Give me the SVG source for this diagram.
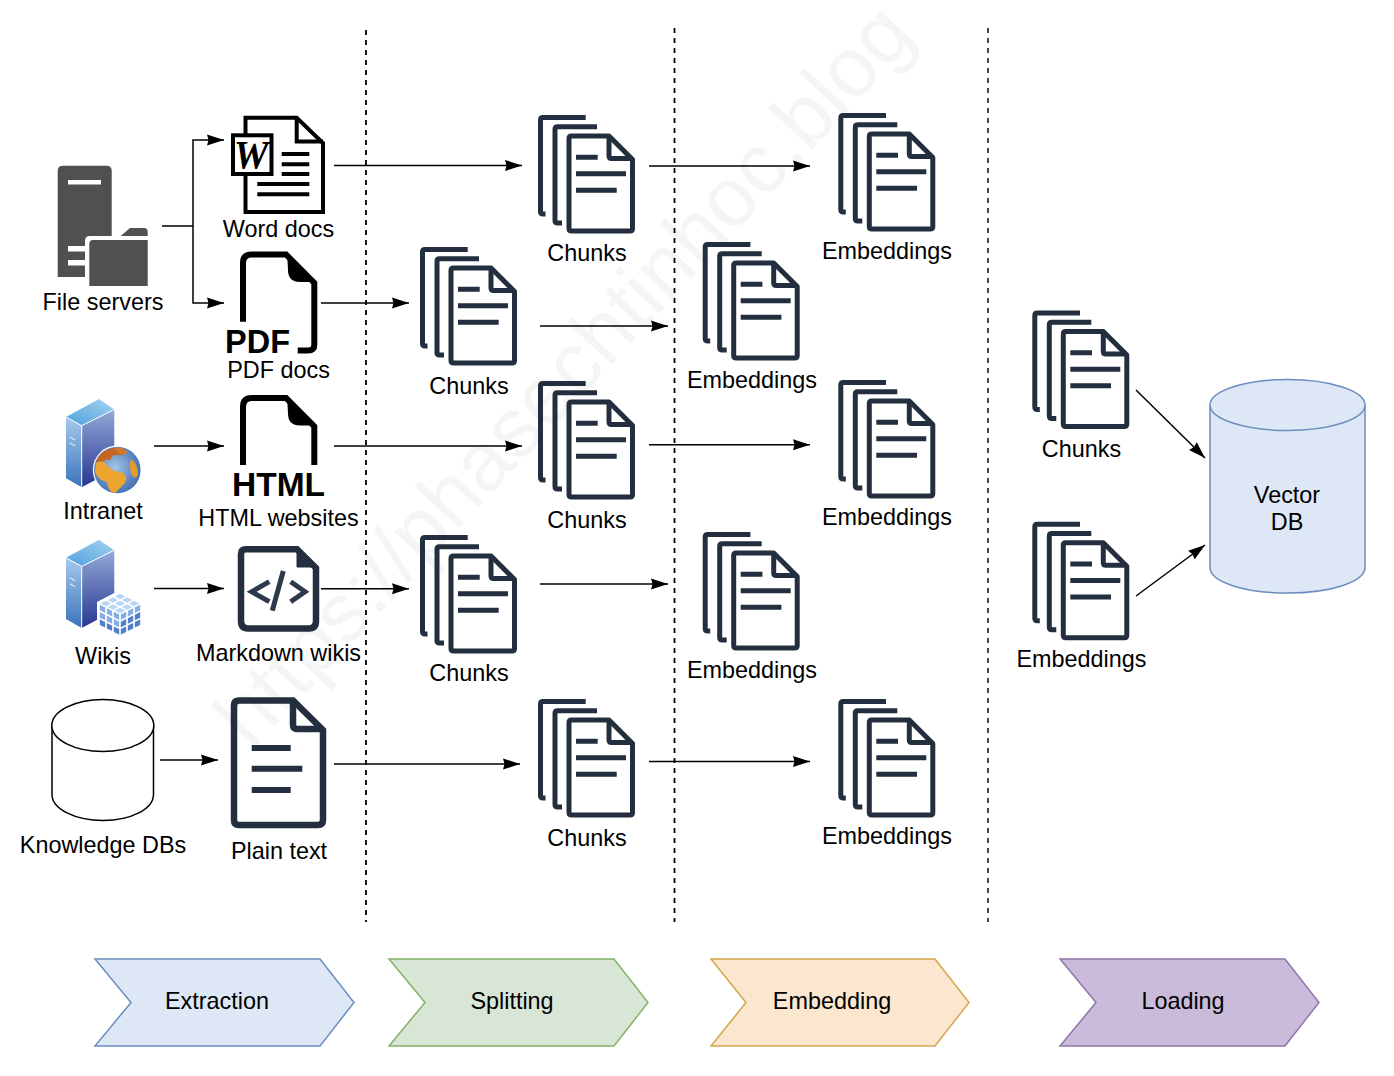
<svg xmlns="http://www.w3.org/2000/svg" xmlns:xlink="http://www.w3.org/1999/xlink" width="1394" height="1076" viewBox="0 0 1394 1076">
<style>
text{font-family:"Liberation Sans",Arial,sans-serif;fill:#000}
.l{font-size:23.4px;text-anchor:middle}
.b{font-weight:bold;font-size:33.5px}
.wm{font-size:84px;fill:#f5f5f5;text-anchor:middle}
.d{fill:none;stroke:#232f3e;stroke-width:5;stroke-linejoin:round}
.k{fill:#fff;stroke:#000;stroke-width:4}
.a{fill:none;stroke:#000;stroke-width:1.5;marker-end:url(#ah)}
.n{fill:none;stroke:#000;stroke-width:1.5}
.s{fill:none;stroke:#000;stroke-width:1.8;stroke-dasharray:5 5}
.t1{fill:#b9d6f5}.t2{fill:#86aee4}.t3{fill:#4f7fc8}
</style>
<defs>
<marker id="ah" markerUnits="userSpaceOnUse" markerWidth="18" markerHeight="13" refX="17" refY="6.5" orient="auto"><path d="M0 1L17 6.5L0 12L1.5 6.5Z" fill="#000"/></marker>
<linearGradient id="gl" x1="0" y1="0" x2="0" y2="1"><stop offset="0" stop-color="#a6cbec"/><stop offset="1" stop-color="#3c73ba"/></linearGradient>
<linearGradient id="gr" x1="0" y1="0" x2="0" y2="1"><stop offset="0" stop-color="#93aad8"/><stop offset="1" stop-color="#27368f"/></linearGradient>
<linearGradient id="gt" x1="0" y1="1" x2="1" y2="0"><stop offset="0" stop-color="#4f9fdc"/><stop offset="1" stop-color="#a4d3f1"/></linearGradient>
<radialGradient id="gg" cx=".45" cy=".45" r=".6"><stop offset="0" stop-color="#a5c6e6"/><stop offset="1" stop-color="#3f6cb0"/></radialGradient>
<g id="stack">
<path class="d" d="M47.7 2.5H5Q2.5 2.5 2.5 5V96.5Q2.5 99 5 99H7.5"/>
<path class="d" d="M59 11.7H19.5Q17 11.7 17 14.2V105.5Q17 108 19.5 108H24"/>
<path class="d" d="M33.5 21H71L94.5 44.5V113.5Q94.5 116 92 116H33.5Q31 116 31 113.5V23.5Q31 21 33.5 21Z"/>
<path class="d" d="M71 21V41Q71 43.5 73.5 43.5H94.5"/>
<path class="d" d="M38 42.3H59.7M38 58.7H88M38 75.3H78.7"/>
</g>
<g id="server">
<path d="M66 0L99 -18L114.3 -7.5L81.7 8.7Z" fill="url(#gt)"/>
<path d="M66 0L81.7 8.7V70.3L66 61.3Z" fill="url(#gl)"/>
<path d="M81.7 8.7L114.3 -7.5V53L81.7 70.3Z" fill="url(#gr)"/>
<path d="M66 0L81.7 8.7L114.3 -7.5M81.7 8.7V70.3" fill="none" stroke="#fff" stroke-width="1"/>
<path d="M70 20L75 23M70 26L75 29" stroke="#dfeaf5" stroke-width="1.2" fill="none"/>
</g>
<path id="page" d="M243 321.7V263Q243 254.5 251.5 254.5H286L314.3 283V345Q314.3 350.5 308 350.5H297.7" fill="none" stroke="#000" stroke-width="6"/>
</defs>

<g id="watermark"><text class="wm" transform="translate(584 394) rotate(-47)">https://phasechtinhoc.blog</text></g>

<g id="separators">
<path class="s" d="M366 30V922"/>
<path class="s" d="M674.5 28V922"/>
<path class="s" d="M988 28V922" style="stroke:#333"/>
</g>

<g id="connectors">
<path class="n" d="M162 226H193"/>
<path class="a" d="M193 226V140H224"/>
<path class="a" d="M193 226V303H224"/>
<path class="a" d="M334 165.5H522"/>
<path class="a" d="M649 166H810"/>
<path class="a" d="M321 303H409"/>
<path class="a" d="M540 326H668"/>
<path class="a" d="M154 446H224"/>
<path class="a" d="M334 446H522"/>
<path class="a" d="M649 444.7H810"/>
<path class="a" d="M154 588.5H224"/>
<path class="a" d="M321 588.7H409"/>
<path class="a" d="M540 584H668"/>
<path class="a" d="M160 760H218"/>
<path class="a" d="M334 764H520"/>
<path class="a" d="M649 761.5H810"/>
<path class="a" d="M1136 390L1205 458"/>
<path class="a" d="M1136 596L1205 545"/>
</g>

<g id="file-servers">
<path d="M57.7 277V171Q57.7 165.7 63 165.7H106.5Q111.7 165.7 111.7 171V277Z" fill="#505050"/>
<rect x="68" y="180" width="33" height="4.5" fill="#fff"/>
<rect x="68" y="246" width="22" height="5.5" fill="#fff"/>
<rect x="68" y="260" width="22" height="5.5" fill="#fff"/>
<path d="M85 290V241Q85 236 90 236H120L128 226H144Q151 226 151 233V290Z" fill="#fff"/>
<path d="M89.3 286V244Q89.3 240 93 240H147.7V286Z" fill="#505050"/>
<path d="M120.7 236L130 228H144Q147.7 228 147.7 232V236Z" fill="#505050"/>
<text class="l" x="103" y="310">File servers</text>
</g>

<g id="word-docs">
<path class="k" d="M245.5 176V212H323V143L296.7 117.7H245.5V134"/>
<path d="M296.7 117.7V141.5H323" fill="none" stroke="#000" stroke-width="4"/>
<rect class="k" x="233" y="135.3" width="38.5" height="38.7"/>
<text x="251" y="168" text-anchor="middle" style="font-family:'Liberation Serif',serif;font-weight:bold;font-style:italic;font-size:39px">W</text>
<path d="M281.7 154H309.3M281.7 164.3H309.3M281.7 174H309.3M257.3 184H309.3M257.3 194.3H309.3" fill="none" stroke="#000" stroke-width="4"/>
<text class="l" x="278.5" y="237">Word docs</text>
</g>

<g id="pdf-docs">
<use href="#page" xlink:href="#page"/>
<path d="M287 252L317 282H300Q288 282 288 270Z" fill="#000"/>
<rect x="222" y="322" width="72" height="33" fill="#fff"/>
<text class="b" x="225" y="352.5" textLength="65" lengthAdjust="spacingAndGlyphs">PDF</text>
<text class="l" x="278.5" y="378">PDF docs</text>
</g>

<g id="intranet">
<use href="#server" xlink:href="#server" y="417"/>
<circle cx="117.3" cy="470" r="24.5" fill="#fff"/>
<circle cx="117.3" cy="470" r="23.3" fill="url(#gg)"/>
<path d="M96 461Q102 449 114 448Q122 450 127 452Q120 456 113 455L110 460Q104 458 101 465Z" fill="#c7641e"/>
<path d="M96 463Q104 459 107 466L114 471L123 473Q130 479 122 486L115 493Q108 492 107 482Q98 480 95 472Z" fill="#eda52e"/>
<path d="M131 459Q138 464 138 475Q134 481 131 473Q129 465 131 459Z" fill="#e59a2c"/>
<path d="M114 448Q122 446 128 452L121 456Z" fill="#d4772a"/>
<text class="l" x="103" y="519">Intranet</text>
</g>

<g id="html-websites">
<path d="M243 465V407Q243 398 251.5 398H286L314.3 426.5V465" fill="none" stroke="#000" stroke-width="6"/>
<path d="M287 395.5L317 425.5H300Q288 425.5 288 413.5Z" fill="#000"/>
<text class="b" x="278.5" y="496" text-anchor="middle">HTML</text>
<text class="l" x="278.5" y="526">HTML websites</text>
</g>

<g id="wikis">
<use href="#server" xlink:href="#server" y="557.7"/>
<path d="M120 590L143 602V628L121 639L97 628V602Z" fill="#fff"/>
<g transform="matrix(7 3.5 -7 3.5 120 593)" class="t1">
<rect x=".12" y=".12" width=".76" height=".76"/><rect x="1.12" y=".12" width=".76" height=".76"/><rect x="2.12" y=".12" width=".76" height=".76"/>
<rect x=".12" y="1.12" width=".76" height=".76"/><rect x="1.12" y="1.12" width=".76" height=".76"/><rect x="2.12" y="1.12" width=".76" height=".76"/>
<rect x=".12" y="2.12" width=".76" height=".76"/><rect x="1.12" y="2.12" width=".76" height=".76"/><rect x="2.12" y="2.12" width=".76" height=".76"/>
</g>
<g transform="matrix(7 3.5 0 7.3 99 603.5)">
<rect class="t2" x=".12" y=".12" width=".76" height=".76"/><rect class="t2" x="1.12" y=".12" width=".76" height=".76"/><rect class="t2" x="2.12" y=".12" width=".76" height=".76"/>
<rect class="t2" x=".12" y="1.12" width=".76" height=".76"/><rect class="t2" x="1.12" y="1.12" width=".76" height=".76"/><rect class="t2" x="2.12" y="1.12" width=".76" height=".76"/>
<rect class="t3" x=".12" y="2.12" width=".76" height=".76"/><rect class="t3" x="1.12" y="2.12" width=".76" height=".76"/><rect class="t3" x="2.12" y="2.12" width=".76" height=".76"/>
</g>
<g transform="matrix(7 -3.5 0 7.3 120 614)">
<rect class="t2" x=".12" y=".12" width=".76" height=".76"/><rect class="t2" x="1.12" y=".12" width=".76" height=".76"/><rect class="t2" x="2.12" y=".12" width=".76" height=".76"/>
<rect class="t3" x=".12" y="1.12" width=".76" height=".76"/><rect class="t3" x="1.12" y="1.12" width=".76" height=".76"/><rect class="t3" x="2.12" y="1.12" width=".76" height=".76"/>
<rect class="t3" x=".12" y="2.12" width=".76" height=".76"/><rect class="t3" x="1.12" y="2.12" width=".76" height=".76"/><rect class="t3" x="2.12" y="2.12" width=".76" height=".76"/>
</g>
<text class="l" x="103" y="664">Wikis</text>
</g>

<g id="markdown-wikis">
<path d="M246 549.3H297L316 568V621Q316 628.4 309 628.4H248Q241 628.4 241 621V554Q241 549.3 246 549.3Z" fill="none" stroke="#232f3e" stroke-width="6.5"/>
<path d="M297 549V567H317Z" fill="#232f3e" stroke="#232f3e" stroke-width="1"/>
<path d="M269.3 581.7L251.7 591.7L269.3 601.7M290.7 581.7L305 591.7L290.7 601.7M283.3 571L272.3 610.7" fill="none" stroke="#2c3a4b" stroke-width="5"/>
<text class="l" x="278.5" y="661">Markdown wikis</text>
</g>

<g id="knowledge-dbs">
<path d="M52 725.5V794.5C52 809 75 820.5 103 820.5S153.5 809 153.5 794.5V725.5" fill="#fff" stroke="#000" stroke-width="1.5"/>
<ellipse cx="102.8" cy="725.5" rx="51" ry="26" fill="#fff" stroke="#000" stroke-width="1.5"/>
<text class="l" x="103" y="853">Knowledge DBs</text>
</g>

<g id="plain-text">
<path d="M239 700.5H293L323 730V820Q323 825 318 825H239Q234 825 234 820V705.5Q234 700.5 239 700.5Z" fill="none" stroke="#232f3e" stroke-width="6.5"/>
<path d="M293 700.5V725Q293 729 297 729H323" fill="none" stroke="#232f3e" stroke-width="6.5"/>
<path d="M251.7 748H290.7M251.7 768.7H302.3M251.7 790H290.7" fill="none" stroke="#232f3e" stroke-width="6"/>
<text class="l" x="279" y="859">Plain text</text>
</g>

<g id="chunks-1"><use href="#stack" xlink:href="#stack" x="538" y="115"/><text class="l" x="587" y="261">Chunks</text></g>
<g id="chunks-2"><use href="#stack" xlink:href="#stack" x="420" y="247"/><text class="l" x="469" y="394">Chunks</text></g>
<g id="chunks-3"><use href="#stack" xlink:href="#stack" x="538" y="381"/><text class="l" x="587" y="528">Chunks</text></g>
<g id="chunks-4"><use href="#stack" xlink:href="#stack" x="420" y="535"/><text class="l" x="469" y="681">Chunks</text></g>
<g id="chunks-5"><use href="#stack" xlink:href="#stack" x="538" y="699"/><text class="l" x="587" y="846">Chunks</text></g>

<g id="embeddings-1"><use href="#stack" xlink:href="#stack" x="838.3" y="113"/><text class="l" x="887" y="259">Embeddings</text></g>
<g id="embeddings-2"><use href="#stack" xlink:href="#stack" x="702.7" y="242"/><text class="l" x="752" y="388">Embeddings</text></g>
<g id="embeddings-3"><use href="#stack" xlink:href="#stack" x="838.3" y="380"/><text class="l" x="887" y="525">Embeddings</text></g>
<g id="embeddings-4"><use href="#stack" xlink:href="#stack" x="702.7" y="532"/><text class="l" x="752" y="678">Embeddings</text></g>
<g id="embeddings-5"><use href="#stack" xlink:href="#stack" x="838.3" y="699"/><text class="l" x="887" y="844">Embeddings</text></g>

<g id="load-chunks"><use href="#stack" xlink:href="#stack" x="1032.3" y="310.5"/><text class="l" x="1081.5" y="457">Chunks</text></g>
<g id="load-embeddings"><use href="#stack" xlink:href="#stack" x="1032.3" y="521.7"/><text class="l" x="1081.5" y="667">Embeddings</text></g>

<g id="vector-db">
<path d="M1210 405V567.5C1210 582 1244.5 593 1287.5 593S1365 582 1365 567.5V405" fill="#dde7f5" stroke="#6c8ebf" stroke-width="1.5"/>
<ellipse cx="1287.5" cy="405" rx="77.5" ry="25.5" fill="#dde7f5" stroke="#6c8ebf" stroke-width="1.5"/>
<text class="l" x="1287" y="503">Vector</text>
<text class="l" x="1287" y="530">DB</text>
</g>

<g id="stage-extraction"><path d="M95 959H320L354 1002.5L320 1046H95L131 1002.5Z" fill="#dde7f5" stroke="#6c8ebf" stroke-width="1.5"/><text class="l" x="217" y="1009">Extraction</text></g>
<g id="stage-splitting"><path d="M389 959H614L648 1002.5L614 1046H389L425 1002.5Z" fill="#d7e6d5" stroke="#82b366" stroke-width="1.5"/><text class="l" x="512" y="1009">Splitting</text></g>
<g id="stage-embedding"><path d="M711 959H935L969 1002.5L935 1046H711L746 1002.5Z" fill="#fbe6d0" stroke="#d4a54a" stroke-width="1.5"/><text class="l" x="832" y="1009">Embedding</text></g>
<g id="stage-loading"><path d="M1060 959H1285L1319 1002.5L1285 1046H1060L1096 1002.5Z" fill="#c9bbd9" stroke="#9077a8" stroke-width="1.5"/><text class="l" x="1183" y="1009">Loading</text></g>
</svg>
